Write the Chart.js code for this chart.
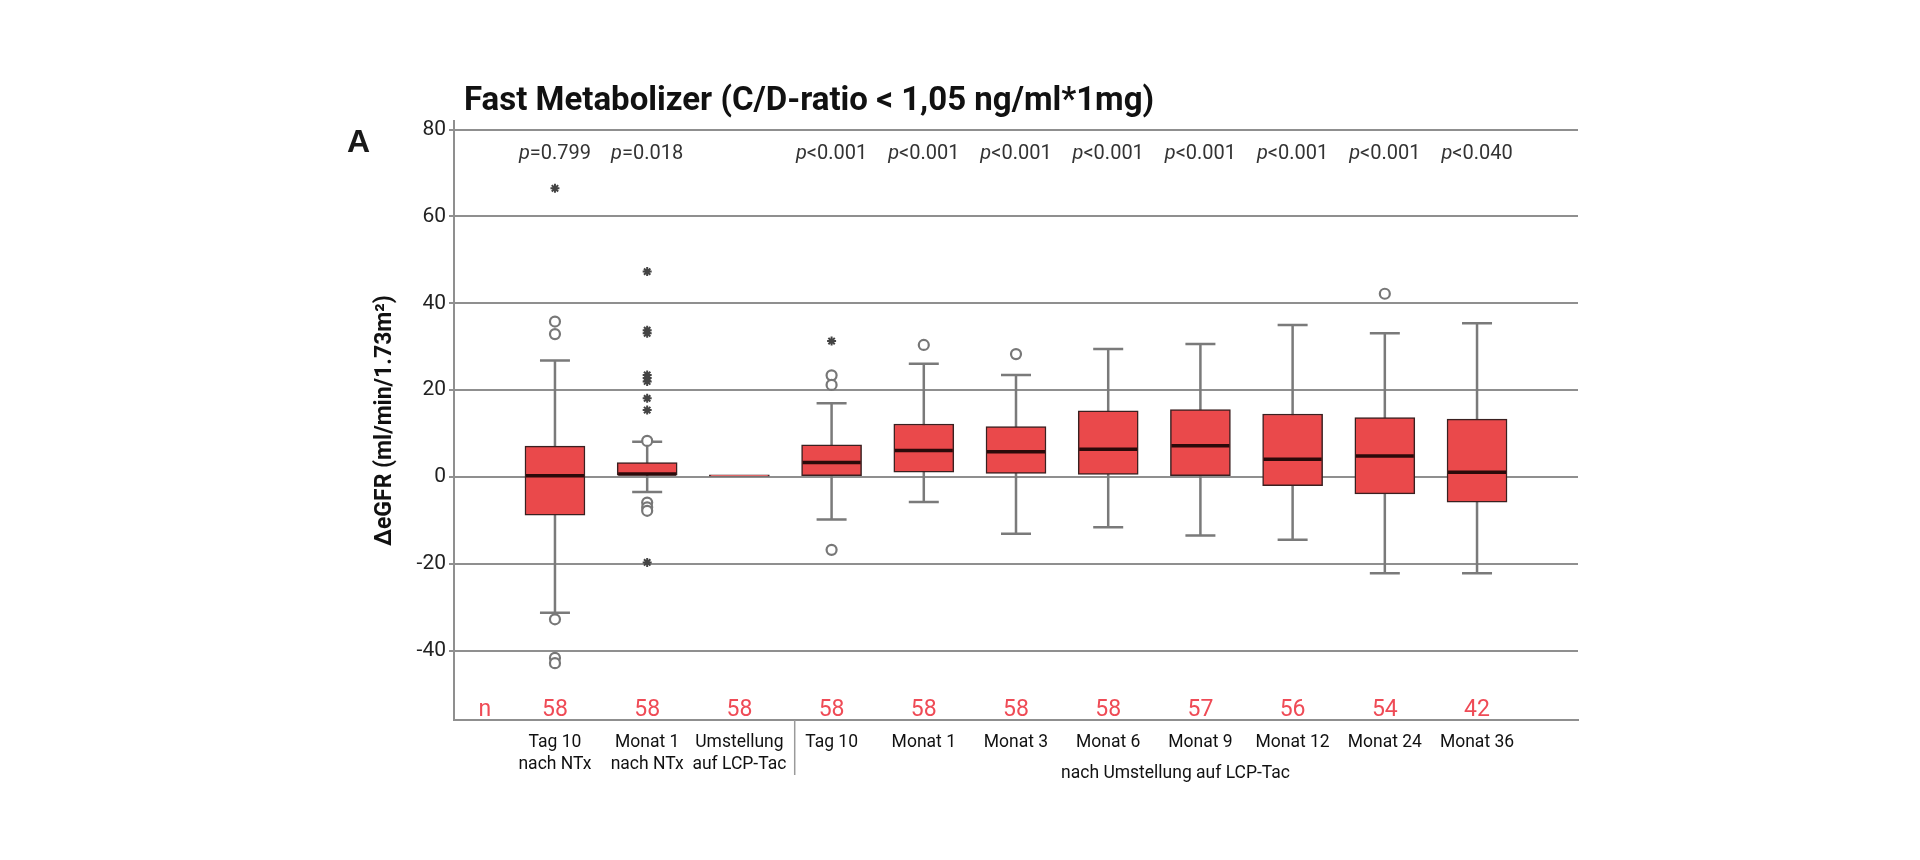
<!DOCTYPE html>
<html>
<head>
<meta charset="utf-8">
<script src="https://cdn.jsdelivr.net/npm/chart.js@4.4.1/dist/chart.umd.min.js"></script>
<style>
  html, body { margin: 0; background: #fff; }
  #wrap { width: 1920px; height: 860px; }
</style>
</head>
<body>
<div id="wrap"><canvas id="chart" width="1920" height="860"></canvas></div>
<script>
// Kategorien (x-Achse)
const categories = [
    ['Tag 10', 'nach NTx'], ['Monat 1', 'nach NTx'], ['Umstellung', 'auf LCP-Tac'],
    'Tag 10', 'Monat 1', 'Monat 3', 'Monat 6', 'Monat 9', 'Monat 12', 'Monat 24', 'Monat 36'
];
const nValues = [58, 58, 58, 58, 58, 58, 58, 57, 56, 54, 42];
const pSigns = ['=', '=', '', '<', '<', '<', '<', '<', '<', '<', '<'];
const pValues = ['0.799', '0.018', '', '0.001', '0.001', '0.001', '0.001', '0.001', '0.001', '0.001', '0.040'];

// Boxplot-Kennwerte (ΔeGFR)
const q1 = [-8.8, 0.4, 0.2, 0.3, 1.1, 0.8, 0.6, 0.3, -2.0, -3.9, -5.8];
const median = [0.3, 0.7, 0.35, 3.3, 6.1, 5.8, 6.4, 7.2, 4.1, 4.8, 1.1];
const q3 = [7.1, 3.3, 0.5, 7.4, 12.2, 11.6, 15.2, 15.5, 14.5, 13.7, 13.3];
const whiskerLow = [-31.3, -3.5, null, -9.8, -5.8, -13.1, -11.6, -13.5, -14.5, -22.2, -22.2];
const whiskerHigh = [26.8, 8.1, null, 17.0, 26.1, 23.5, 29.5, 30.6, 35.0, 33.1, 35.4];

// Ausreißer: Kreise (mild) und Sterne (extrem)
const circleOutliers = [
    [35.8, 32.9, -32.8, -41.7, -42.9],
    [8.3, -5.9, -7.0, -7.8],
    [],
    [23.4, 21.2, -16.8],
    [30.4],
    [28.3],
    [], [], [],
    [42.2],
    []
];
const starOutliers = [
    [66.5],
    [47.3, 33.8, 33.1, 23.5, 22.8, 22.0, 18.1, 15.4, -19.7],
    [],
    [31.3],
    [], [], [], [], [], [], []
];

const yMin = -56;
const yMax = 82;

const toPoints = (lists) => lists.flatMap((vals, i) => vals.map(v => ({ x: i, y: v })));

const gridColor = '#8f8f8f';
const boxRed = 'rgb(234, 73, 75)';
const nRed = '#ef4b56';

// Whisker und Mediane über die Skalen zeichnen
const boxPlotParts = {
    id: 'boxPlotParts',
    beforeDatasetsDraw(chart) {
        const { ctx, scales: { x, y } } = chart;
        ctx.save();
        ctx.strokeStyle = '#7a7a7a';
        ctx.lineWidth = 2.5;
        categories.forEach((c, i) => {
            if (whiskerLow[i] === null) return;
            const px = x.getPixelForValue(i);
            const capHalf = 15;
            const yLo = y.getPixelForValue(whiskerLow[i]);
            const yHi = y.getPixelForValue(whiskerHigh[i]);
            ctx.beginPath();
            ctx.moveTo(px, yLo); ctx.lineTo(px, yHi);
            ctx.moveTo(px - capHalf, yLo); ctx.lineTo(px + capHalf, yLo);
            ctx.moveTo(px - capHalf, yHi); ctx.lineTo(px + capHalf, yHi);
            ctx.stroke();
        });
        ctx.restore();
    },
    afterDatasetsDraw(chart) {
        const { ctx, scales: { x, y } } = chart;
        ctx.save();
        ctx.strokeStyle = '#2b0a0a';
        ctx.lineWidth = 3.5;
        categories.forEach((c, i) => {
            if (i === 2) return;
            const px = x.getPixelForValue(i);
            const py = y.getPixelForValue(median[i]);
            ctx.beginPath();
            ctx.moveTo(px - 29, py); ctx.lineTo(px + 29, py);
            ctx.stroke();
        });
        ctx.restore();
    }
};

// Titel, Beschriftungen, n und p-Werte
const annotations = {
    id: 'annotations',
    afterDraw(chart) {
        const { ctx, chartArea, scales: { x, y } } = chart;
        ctx.save();
        ctx.textBaseline = 'middle';

        ctx.fillStyle = '#111';
        ctx.font = 'bold 33px Roboto';
        ctx.textAlign = 'left';
        ctx.fillText('Fast Metabolizer (C/D-ratio < 1,05 ng/ml*1mg)', 464, 102);

        ctx.font = 'bold 32px "Liberation Sans"';
        ctx.fillStyle = '#1a1a1a';
        ctx.fillText('A', 347, 143);

        // p-Werte
        const pY = y.getPixelForValue(74.3);
        ctx.fillStyle = '#333';
        categories.forEach((c, i) => {
            if (!pValues[i]) return;
            const rest = pSigns[i] + pValues[i];
            ctx.font = 'italic 20px Roboto';
            const wP = ctx.measureText('p').width;
            ctx.font = '20px Roboto';
            const wR = ctx.measureText(rest).width;
            const left = x.getPixelForValue(i) - (wP + wR) / 2;
            ctx.font = 'italic 20px Roboto';
            ctx.fillText('p', left, pY);
            ctx.font = '20px Roboto';
            ctx.fillText(rest, left + wP, pY);
        });

        // n-Zeile
        const nY = y.getPixelForValue(-53.7);
        ctx.fillStyle = nRed;
        ctx.font = '23px Roboto';
        ctx.textAlign = 'center';
        ctx.fillText('n', x.getPixelForValue(-0.76), nY);
        nValues.forEach((n, i) => ctx.fillText(String(n), x.getPixelForValue(i), nY));

        // Trennlinie und Gruppenbeschriftung
        const sepX = x.getPixelForValue(2.6);
        ctx.strokeStyle = '#9a9a9a';
        ctx.lineWidth = 1.5;
        ctx.beginPath();
        ctx.moveTo(sepX, chartArea.bottom);
        ctx.lineTo(sepX, chartArea.bottom + 55);
        ctx.stroke();

        ctx.fillStyle = '#111';
        ctx.font = '17.5px Roboto';
        ctx.fillText('nach Umstellung auf LCP-Tac', x.getPixelForValue(6.73), chartArea.bottom + 54);
        ctx.restore();
    }
};

new Chart(document.getElementById('chart'), {
    type: 'bar',
    data: {
        datasets: [
            {
                label: 'Box',
                data: categories.map((c, i) => ({ x: i, y: [q1[i], q3[i]] })),
                backgroundColor: boxRed,
                borderColor: '#3a2020',
                borderWidth: 1.5,
                borderSkipped: false,
                barThickness: 60,
                order: 2
            },
            {
                type: 'scatter',
                label: 'Ausreißer',
                data: toPoints(circleOutliers),
                pointStyle: 'circle',
                radius: 5,
                backgroundColor: '#fff',
                borderColor: '#777',
                borderWidth: 2.2,
                order: 1
            },
            {
                type: 'scatter',
                label: 'Extremwerte',
                data: toPoints(starOutliers),
                pointStyle: 'star',
                radius: 4.5,
                borderColor: '#444',
                borderWidth: 2,
                order: 1
            }
        ]
    },
    options: {
        responsive: false,
        devicePixelRatio: 1,
        animation: false,
        layout: { padding: { left: 354, right: 342, top: 121, bottom: 60 } },
        scales: {
            x: {
                type: 'linear',
                offset: false,
                min: -1.095,
                max: 11.095,
                afterBuildTicks: (scale) => {
                    scale.ticks = categories.map((c, i) => ({ value: i }));
                },
                afterFit: (scale) => { scale.height = 80; },
                grid: { display: false, drawTicks: false, offset: false },
                border: { display: true, color: gridColor, width: 2 },
                ticks: {
                    autoSkip: false,
                    maxRotation: 0,
                    padding: 12,
                    color: '#111',
                    font: { family: 'Roboto', size: 17.5, lineHeight: 1.25 },
                    callback: (value) => categories[value]
                }
            },
            y: {
                min: yMin,
                max: yMax,
                afterFit: (scale) => { scale.width = 100; },
                grid: { color: gridColor, lineWidth: 2, tickLength: 5, tickColor: gridColor },
                border: { display: true, color: gridColor, width: 2 },
                ticks: {
                    stepSize: 20,
                    includeBounds: false,
                    padding: 3,
                    color: '#222',
                    font: { family: 'Roboto', size: 21 }
                },
                title: {
                    display: true,
                    text: 'ΔeGFR (ml/min/1.73m²)',
                    color: '#111',
                    font: { family: 'Roboto', size: 23, weight: 'bold', lineHeight: 1.2 },
                    padding: { top: 17, bottom: 0 }
                }
            }
        },
        plugins: {
            legend: { display: false },
            tooltip: { enabled: false }
        }
    },
    plugins: [boxPlotParts, annotations]
});
</script>
</body>
</html>
